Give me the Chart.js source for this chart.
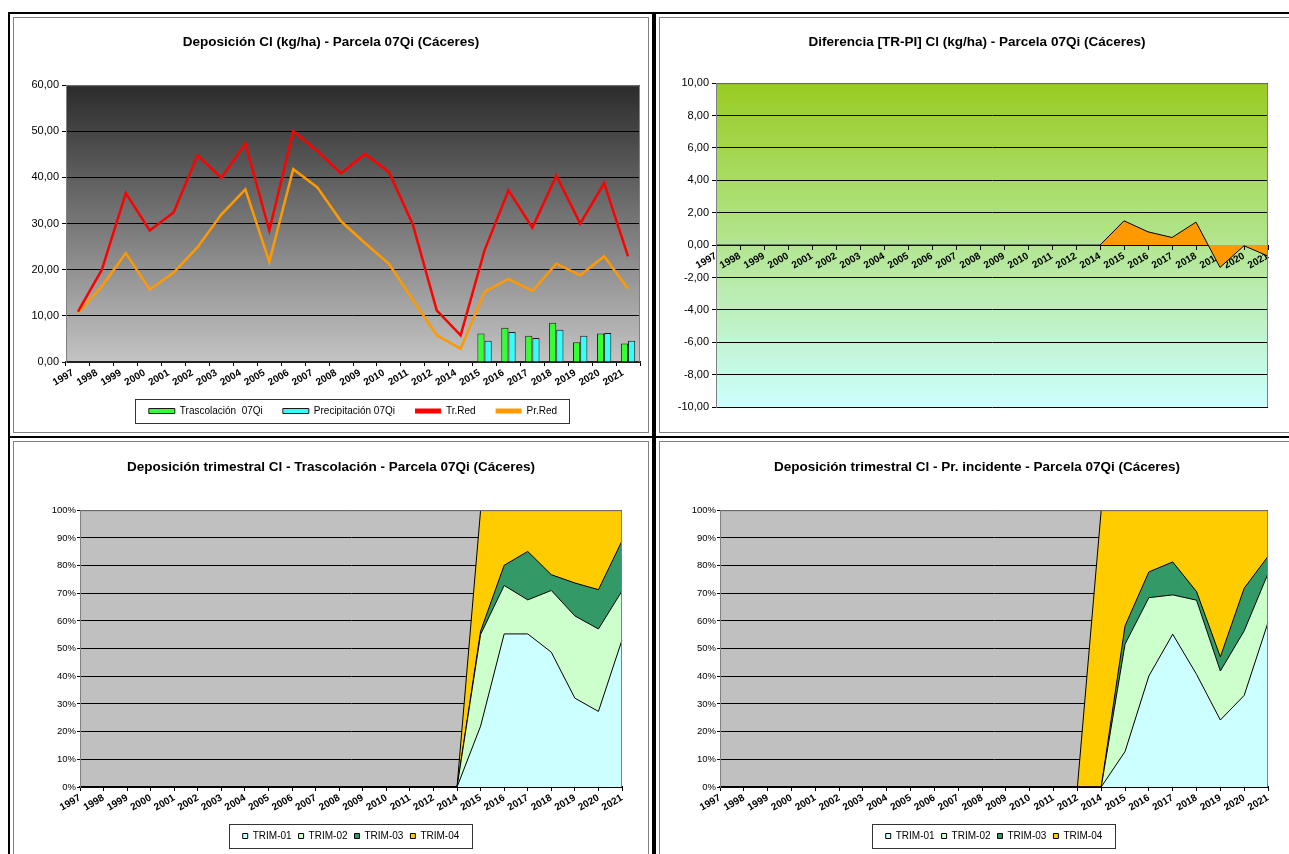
<!DOCTYPE html>
<html>
<head>
<meta charset="utf-8">
<title>Deposición Cl - Parcela 07Qi (Cáceres)</title>
<script src="https://cdn.jsdelivr.net/npm/chart.js@4.4.1/dist/chart.umd.min.js"></script>
<style>
  html, body { margin: 0; padding: 0; background: #fff; overflow: hidden; }
  body { width: 1289px; height: 854px; position: relative; }
  .panel { position: absolute; width: 646px; height: 426px; border: 2px solid #000; box-sizing: border-box; }
  .inner { position: absolute; left: 3px; top: 3px; right: 3px; bottom: 3px; border: 1px solid #808080; }
  .inner canvas { position: absolute; left: 0; top: 0; }
</style>
</head>
<body>
<div class="panel" style="left:8px; top:12px;"><div class="inner"><canvas id="chartDeposicion" width="634" height="414"></canvas></div></div>
<div class="panel" style="left:654px; top:12px;"><div class="inner"><canvas id="chartDiferencia" width="634" height="414"></canvas></div></div>
<div class="panel" style="left:8px; top:436px;"><div class="inner"><canvas id="chartTrimTr" width="634" height="414"></canvas></div></div>
<div class="panel" style="left:654px; top:436px;"><div class="inner"><canvas id="chartTrimPi" width="634" height="414"></canvas></div></div>

<script>
// Jaren (2013 ontbreekt in de reeks)
const years = ['1997','1998','1999','2000','2001','2002','2003','2004','2005','2006','2007','2008',
               '2009','2010','2011','2012','2014','2015','2016','2017','2018','2019','2020','2021'];

// Deposición Cl (kg/ha)
const trascolacion  = [null,null,null,null,null,null,null,null,null,null,null,null,null,null,null,null,0,6.2,7.4,5.7,8.5,4.3,6.2,4.0];
const precipitacion = [null,null,null,null,null,null,null,null,null,null,null,null,null,null,null,null,0.1,4.6,6.5,5.2,7.0,5.7,6.3,4.6];
const trRed = [10.9,20.0,36.6,28.5,32.4,44.8,39.9,47.4,28.5,50.0,45.8,40.9,45.1,41.2,29.8,11.2,5.8,24.2,37.2,29.1,40.4,30.0,38.8,22.9];
const prRed = [10.7,16.4,23.6,15.7,19.4,24.9,32.0,37.4,21.7,41.8,37.9,30.5,25.8,21.3,13.5,5.8,2.9,15.2,18.0,15.4,21.3,18.8,22.9,15.9];

// Diferencia [TR-PI]
const diferencia = [0,0,0,0,0,0,0,0,0,0,0,0,0,0,0,0,0,1.5,0.82,0.47,1.42,-1.38,-0.04,-0.68];

// Deposición trimestral - Trascolación (%)
const trTrim01 = [0,0,0,0,0,0,0,0,0,0,0,0,0,0,0,0,0,22.0,55.3,55.3,48.7,32.1,27.3,53.1];
const trTrim02 = [0,0,0,0,0,0,0,0,0,0,0,0,0,0,0,0,0,33.1,17.5,12.3,22.3,29.7,29.8,17.7];
const trTrim03 = [0,0,0,0,0,0,0,0,0,0,0,0,0,0,0,0,0,1.2,7.3,17.5,5.7,11.9,14.2,18.1];
const trTrim04 = [0,0,0,0,0,0,0,0,0,0,0,0,0,0,0,0,0,43.7,19.9,14.9,23.3,26.3,28.7,11.1];

// Deposición trimestral - Pr. incidente (%)
const piTrim01 = [0,0,0,0,0,0,0,0,0,0,0,0,0,0,0,0,0,12.8,40.1,55.2,40.7,24.2,33.1,59.4];
const piTrim02 = [0,0,0,0,0,0,0,0,0,0,0,0,0,0,0,0,0,38.8,28.3,14.2,26.8,17.7,23.3,17.7];
const piTrim03 = [0,0,0,0,0,0,0,0,0,0,0,0,0,0,0,0,0,6.6,9.3,11.9,3.1,5.1,15.4,6.2];
const piTrim04 = [0,0,0,0,0,0,0,0,0,0,0,0,0,0,0,0,100,41.8,22.3,18.7,29.4,53.0,28.2,16.7];

const trimLabels = ['TRIM-01', 'TRIM-02', 'TRIM-03', 'TRIM-04'];
const trimColors = ['#ccffff', '#ccffcc', '#339966', '#ffcc00'];

Chart.defaults.font.family = "'Liberation Sans', Arial, sans-serif";
Chart.defaults.color = '#000';
Chart.defaults.animation = false;

// komma als decimaalteken
function comma2(v) { return v.toFixed(2).replace('.', ','); }

// achtergrond van het plotvlak + grijze rand
function plotBackground(fill) {
    return {
        id: 'plotBackground',
        beforeDraw(chart) {
            const a = chart.chartArea, ctx = chart.ctx;
            ctx.save();
            if (Array.isArray(fill)) {
                const g = ctx.createLinearGradient(0, a.top, 0, a.bottom);
                fill.forEach((c, i) => g.addColorStop(i / (fill.length - 1), c));
                ctx.fillStyle = g;
            } else {
                ctx.fillStyle = fill;
            }
            ctx.fillRect(a.left, a.top, a.right - a.left, a.bottom - a.top);
            ctx.restore();
        },
        afterDraw(chart) {
            const a = chart.chartArea, ctx = chart.ctx;
            ctx.save();
            ctx.strokeStyle = '#808080';
            ctx.lineWidth = 1;
            ctx.beginPath();
            ctx.moveTo(a.left + 0.5, a.bottom);
            ctx.lineTo(a.left + 0.5, a.top + 0.5);
            ctx.lineTo(a.right - 0.5, a.top + 0.5);
            ctx.lineTo(a.right - 0.5, a.bottom);
            ctx.stroke();
            ctx.restore();
        }
    };
}

// legenda centreren onder het plotvlak en een kader tekenen
const legendFrame = {
    id: 'legendFrame',
    afterLayout(chart) {
        const lg = chart.legend;
        if (lg && lg.options.display) {
            lg.left = chart.chartArea.left;
            lg.right = chart.chartArea.right;
        }
    },
    afterDraw(chart) {
        const lg = chart.legend;
        if (!lg || !lg.options.display || !lg.legendHitBoxes || !lg.legendHitBoxes.length) return;
        const hb = lg.legendHitBoxes;
        const x0 = Math.min(...hb.map(h => h.left)) - 14;
        const x1 = Math.max(...hb.map(h => h.left + h.width)) + 12;
        const y0 = hb[0].top - 7;
        const y1 = hb[0].top + hb[0].height + 7;
        const ctx = chart.ctx;
        ctx.save();
        ctx.strokeStyle = '#333';
        ctx.lineWidth = 1;
        ctx.strokeRect(Math.round(x0) + 0.5, Math.round(y0) + 0.5, Math.round(x1 - x0), Math.round(y1 - y0));
        ctx.restore();
    }
};

function titleOpts(text, top, bottom) {
    return { display: true, text: text, color: '#000', font: { size: 13.5, weight: 'bold' }, padding: { top: top, bottom: bottom } };
}

function yearTicks(offset) {
    return { autoSkip: false, maxRotation: 30, minRotation: 30, padding: 1, labelOffset: offset || 0,
             font: { size: 10, weight: 'bold' }, color: '#000' };
}

// lege as rechts: houdt ruimte vrij zonder de titel te verschuiven
function spacer(w) {
    return {
        position: 'right', display: true,
        grid: { display: false }, border: { display: false },
        ticks: { display: false },
        afterFit(scale) { scale.width = w; }
    };
}

// 1. Deposición Cl (kg/ha)
new Chart(document.getElementById('chartDeposicion'), {
    type: 'bar',
    data: {
        labels: years,
        datasets: [
            { label: 'Trascolación  07Qi', data: trascolacion, backgroundColor: '#33ff33', borderColor: '#1a1a1a', borderWidth: 1, categoryPercentage: 0.6, barPercentage: 1.0, order: 3 },
            { label: 'Precipitación 07Qi', data: precipitacion, backgroundColor: '#33ffff', borderColor: '#1a1a1a', borderWidth: 1, categoryPercentage: 0.6, barPercentage: 1.0, order: 4 },
            { type: 'line', label: 'Tr.Red', data: trRed, borderColor: '#ff0000', backgroundColor: '#ff0000', borderWidth: 2.5, pointRadius: 0, tension: 0, order: 1 },
            { type: 'line', label: 'Pr.Red', data: prRed, borderColor: '#ff9900', backgroundColor: '#ff9900', borderWidth: 2.5, pointRadius: 0, tension: 0, order: 2 }
        ]
    },
    options: {
        responsive: false,
        layout: { padding: { left: 0, right: 0, top: 0, bottom: 6 } },
        scales: {
            x: {
                offset: true,
                grid: { display: true, drawOnChartArea: false, tickLength: 4, color: '#000' },
                border: { color: '#222', width: 2 },
                ticks: yearTicks(-5),
                afterFit(scale) { scale.height = 24; }
            },
            y: {
                min: 0, max: 60,
                ticks: { stepSize: 10, padding: 3, font: { size: 11 }, color: '#000', callback: v => comma2(v) },
                grid: { color: '#000', tickLength: 4 },
                border: { color: '#808080' },
                afterFit(scale) { scale.width = 52; }
            },
            yRight: spacer(8)
        },
        plugins: {
            title: titleOpts('Deposición Cl (kg/ha) - Parcela 07Qi (Cáceres)', 16, 35),
            legend: {
                position: 'bottom',
                labels: {
                    boxWidth: 26, boxHeight: 5, padding: 20, font: { size: 10 }, color: '#000',
                    sort: (a, b) => a.datasetIndex - b.datasetIndex,
                    generateLabels(chart) {
                        const items = Chart.defaults.plugins.legend.labels.generateLabels(chart);
                        items.forEach(it => {
                            if (chart.data.datasets[it.datasetIndex].type === 'line') it.lineWidth = 0;
                        });
                        return items;
                    }
                }
            },
            tooltip: { enabled: false }
        }
    },
    plugins: [plotBackground(['#2b2b2b', '#c4c4c4']), legendFrame]
});

// 2. Diferencia [TR-PI]
new Chart(document.getElementById('chartDiferencia'), {
    type: 'line',
    data: {
        labels: years,
        datasets: [
            { label: 'Diferencia', data: diferencia, fill: 'origin', backgroundColor: '#ff9900', borderColor: '#000', borderWidth: 1, pointRadius: 0, tension: 0 }
        ]
    },
    options: {
        responsive: false,
        layout: { padding: { left: 0, right: 0, top: 0, bottom: 25 } },
        scales: {
            x: {
                position: { y: 0 },
                offset: false,
                grid: { display: true, drawOnChartArea: false, tickLength: 4, color: '#000' },
                border: { color: '#000', width: 1 },
                ticks: yearTicks()
            },
            y: {
                min: -10, max: 10,
                ticks: { stepSize: 2, padding: 3, font: { size: 11 }, color: '#000', callback: v => comma2(v) },
                grid: { color: '#000', tickLength: 4 },
                border: { color: '#808080' },
                afterFit(scale) { scale.width = 56; }
            },
            yRight: spacer(26)
        },
        plugins: {
            title: titleOpts('Diferencia [TR-PI] Cl (kg/ha) - Parcela 07Qi (Cáceres)', 16, 33),
            legend: { display: false },
            tooltip: { enabled: false }
        }
    },
    plugins: [plotBackground(['#99cc22', '#ccffff'])]
});

// 3 + 4. Deposición trimestral (100% gestapeld)
function trimChart(canvasId, title, series, yWidth) {
    new Chart(document.getElementById(canvasId), {
        type: 'line',
        data: {
            labels: years,
            datasets: series.map((data, i) => ({
                label: trimLabels[i],
                data: data,
                fill: i === 0 ? 'origin' : '-1',
                backgroundColor: trimColors[i],
                borderColor: '#000',
                borderWidth: 1,
                pointRadius: 0,
                tension: 0
            }))
        },
        options: {
            responsive: false,
            layout: { padding: { left: 0, right: 0, top: 0, bottom: 5 } },
            scales: {
                x: {
                    offset: false,
                    grid: { display: true, drawOnChartArea: false, tickLength: 4, color: '#000' },
                    border: { color: '#000', width: 2 },
                    ticks: yearTicks(),
                    afterFit(scale) { scale.height = 37; }
                },
                y: {
                    stacked: true,
                    min: 0, max: 100,
                    ticks: { stepSize: 10, padding: 1, font: { size: 9.5 }, color: '#000', callback: v => v + '%' },
                    grid: { color: '#000', tickLength: 3 },
                    border: { color: '#808080' },
                    afterFit(scale) { scale.width = yWidth; }
                },
                yRight: spacer(26)
            },
            plugins: {
                title: titleOpts(title, 17, 35),
                legend: {
                    position: 'bottom',
                    labels: { boxWidth: 5, boxHeight: 5, padding: 7, font: { size: 10 }, color: '#000' }
                },
                tooltip: { enabled: false }
            }
        },
        plugins: [plotBackground('#c0c0c0'), legendFrame]
    });
}

trimChart('chartTrimTr', 'Deposición trimestral Cl - Trascolación - Parcela 07Qi (Cáceres)',
          [trTrim01, trTrim02, trTrim03, trTrim04], 66);
trimChart('chartTrimPi', 'Deposición trimestral Cl - Pr. incidente - Parcela 07Qi (Cáceres)',
          [piTrim01, piTrim02, piTrim03, piTrim04], 60);
</script>
</body>
</html>
